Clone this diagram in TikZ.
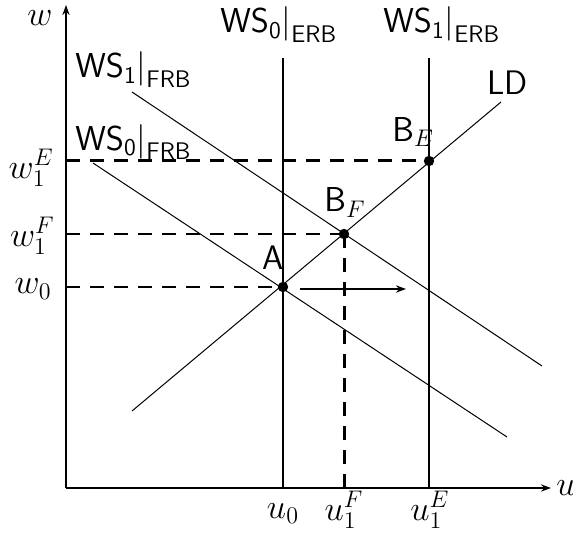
\documentclass[tikz,border=0pt]{standalone}
\usetikzlibrary{arrows.meta}
\begin{document}
\begin{tikzpicture}[x=0.5pt, y=-0.5pt, >={Stealth[length=5pt,width=3.6pt]},
    axis/.style={line width=1pt},
    schedule/.style={line width=0.5pt},
    guide/.style={line width=1pt, dash pattern=on 7pt off 5pt},
    lbl/.style={font=\fontsize{17}{20}\selectfont\sffamily, inner sep=0pt},
    dot/.style={fill=black}]
    \useasboundingbox (0,0) rectangle (573,535);

    % axes
    \coordinate (O) at (66,488);
    \coordinate (xend) at (551,488);
    \coordinate (yend) at (66,5);
    \draw[axis, ->] (O) -- (xend);
    \draw[axis, ->] (O) -- (yend);
    \node[lbl] (wax) at (40,18) {$w$};
    \node[lbl] (uax) at (566,488) {$u$};

    % equilibrium points
    \coordinate (A) at (283,287);
    \coordinate (BF) at (344,234);
    \coordinate (BE) at (429,161);

    % vertical WS schedules (ERB)
    \coordinate (ws0top) at (283,58);
    \coordinate (ws0bot) at (283,488);
    \coordinate (ws1top) at (429,58);
    \coordinate (ws1bot) at (429,488);
    \draw[axis] (ws0top) -- (ws0bot);
    \draw[axis] (ws1top) -- (ws1bot);
    \node[lbl, anchor=base west] (ws0erb) at (220,33) {$\mathsf{WS}_{\mathsf{0}}\big|_{\mathsf{ERB}}$};
    \node[lbl, anchor=base west] (ws1erb) at (383,33) {$\mathsf{WS}_{\mathsf{1}}\big|_{\mathsf{ERB}}$};

    % LD and sloped WS schedules (FRB)
    \coordinate (ldbot) at (132,411);
    \coordinate (ldtop) at (501,102);
    \draw[schedule] (ldbot) -- (ldtop);
    \node[lbl, anchor=base west] (ld) at (487,95) {LD};

    \coordinate (fr0top) at (93,163);
    \coordinate (fr0bot) at (507,437);
    \coordinate (fr1top) at (132,92);
    \coordinate (fr1bot) at (542,366);
    \draw[schedule] (fr0top) -- (fr0bot);
    \draw[schedule] (fr1top) -- (fr1bot);
    \node[lbl, anchor=base west] (ws0frb) at (75,150) {$\mathsf{WS}_{\mathsf{0}}\big|_{\mathsf{FRB}}$};
    \node[lbl, anchor=base west] (ws1frb) at (75,78) {$\mathsf{WS}_{\mathsf{1}}\big|_{\mathsf{FRB}}$};

    % guide lines to the axes
    \coordinate (w1E) at (66,161);
    \coordinate (w1F) at (66,234);
    \coordinate (w0) at (66,287);
    \coordinate (u1F) at (344,488);
    \draw[guide, line width=1.5pt] (w1E) -- (BE);
    \draw[guide] (w1F) -- (BF);
    \draw[guide, line width=1.5pt] (BF) -- (u1F);
    \draw[guide] (w0) -- (A);

    % shift of employment
    \coordinate (shiftfrom) at (300,289);
    \coordinate (shiftto) at (406,289);
    \draw[axis, ->] (shiftfrom) -- (shiftto);

    \foreach \p in {A, BF, BE} {
        \fill[dot] (\p) circle (2.6pt);
    }

    \node[lbl, anchor=base west] (Alab) at (262,269) {A};
    \node[lbl, anchor=base west] (BFlab) at (324,212) {$\mathsf{B}_F$};
    \node[lbl, anchor=base west] (BElab) at (392,141) {$\mathsf{B}_E$};

    % axis values
    \node[lbl, anchor=east] (w1Elab) at (54,168) {$w_1^E$};
    \node[lbl, anchor=east] (w1Flab) at (55,236) {$w_1^F$};
    \node[lbl, anchor=east] (w0lab) at (52,289) {$w_0$};
    \node[lbl, anchor=north] (u0lab) at (283,503) {$u_0$};
    \node[lbl, anchor=north] (u1Flab) at (344,491) {$u_1^F$};
    \node[lbl, anchor=north] (u1Elab) at (430,491) {$u_1^E$};
\end{tikzpicture}
\end{document}
